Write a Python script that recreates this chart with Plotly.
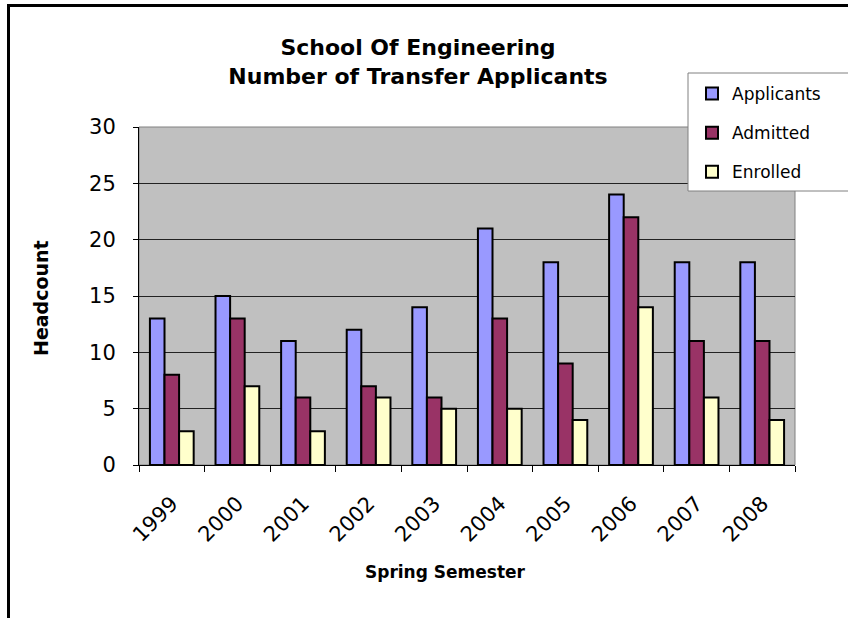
import plotly.graph_objects as go

years = ["1999", "2000", "2001", "2002", "2003", "2004", "2005", "2006", "2007", "2008"]
applicants = [13, 15, 11, 12, 14, 21, 18, 24, 18, 18]
admitted = [8, 13, 6, 7, 6, 13, 9, 22, 11, 11]
enrolled = [3, 7, 3, 6, 5, 5, 4, 14, 6, 4]

W, H = 848, 618
L, R, T, B = 139, 795, 127, 465  # plot area in pixels
pw, ph = R - L, B - T

def px(x):
    return (x - L) / pw

def py(y):
    return (B - y) / ph

FONT = "DejaVu Sans"

fig = go.Figure()
for name, vals, col in [("Applicants", applicants, "#9999FF"),
                        ("Admitted", admitted, "#993366"),
                        ("Enrolled", enrolled, "#FFFFCC")]:
    fig.add_trace(go.Bar(x=years, y=vals, name=name, legendgroup=name,
                         marker=dict(color=col, line=dict(color="black", width=2))))

fig.update_layout(
    width=W, height=H,
    margin=dict(l=L, r=W - R, t=T, b=H - B, pad=0),
    paper_bgcolor="white", plot_bgcolor="#C0C0C0",
    barmode="group", bargap=0.333, bargroupgap=0,
    font=dict(family=FONT, color="black"),
    title=dict(text="<b>School Of Engineering<br>Number of Transfer Applicants</b>",
               xref="container", yref="container", x=418 / W, y=1 - 55 / H,
               xanchor="center", yanchor="middle",
               font=dict(family=FONT, size=22, color="black")),
    legend=dict(x=px(692), y=py(76), xanchor="left", yanchor="top",
                bgcolor="rgba(0,0,0,0)", borderwidth=0,
                font=dict(family=FONT, size=17, color="black"),
                traceorder="grouped", tracegroupgap=14),
    xaxis=dict(type="category", tickson="boundaries", ticks="outside", ticklen=6,
               tickcolor="black", showline=True, linecolor="black", linewidth=1,
               tickangle=-45, tickfont=dict(family=FONT, size=21),
               ticklabelstandoff=17, showgrid=False),
    yaxis=dict(range=[0, 30], dtick=5, ticks="outside", ticklen=5, tickcolor="black",
               showline=True, linecolor="black", linewidth=1,
               showgrid=True, gridcolor="#222222", gridwidth=1,
               tickfont=dict(family=FONT, size=21), ticklabelstandoff=13,
               zeroline=False),
    shapes=[
        # plot area border (top/right gray)
        dict(type="rect", xref="paper", yref="paper", x0=0, x1=1, y0=0, y1=1,
             line=dict(color="#808080", width=1), layer="below"),
        # legend box
        dict(type="rect", xref="paper", yref="paper", x0=px(688), x1=px(880),
             y0=py(191), y1=py(73), fillcolor="white",
             line=dict(color="#808080", width=1), layer="above"),
        # outer chart border
        dict(type="rect", xref="paper", yref="paper", x0=px(8.5), x1=px(900),
             y0=py(700), y1=py(5.5), line=dict(color="black", width=3),
             layer="above"),
    ],
    annotations=[
        dict(text="<b>Headcount</b>", xref="paper", yref="paper", x=px(41), y=py(298),
             textangle=-90, showarrow=False, xanchor="center", yanchor="middle",
             font=dict(family=FONT, size=19)),
        dict(text="<b>Spring Semester</b>", xref="paper", yref="paper", x=px(445),
             y=py(572), showarrow=False, xanchor="center", yanchor="middle",
             font=dict(family=FONT, size=17)),
    ],
)

fig.write_html("out.html", config={"displayModeBar": False},
               post_script="document.body.style.margin='0';")
